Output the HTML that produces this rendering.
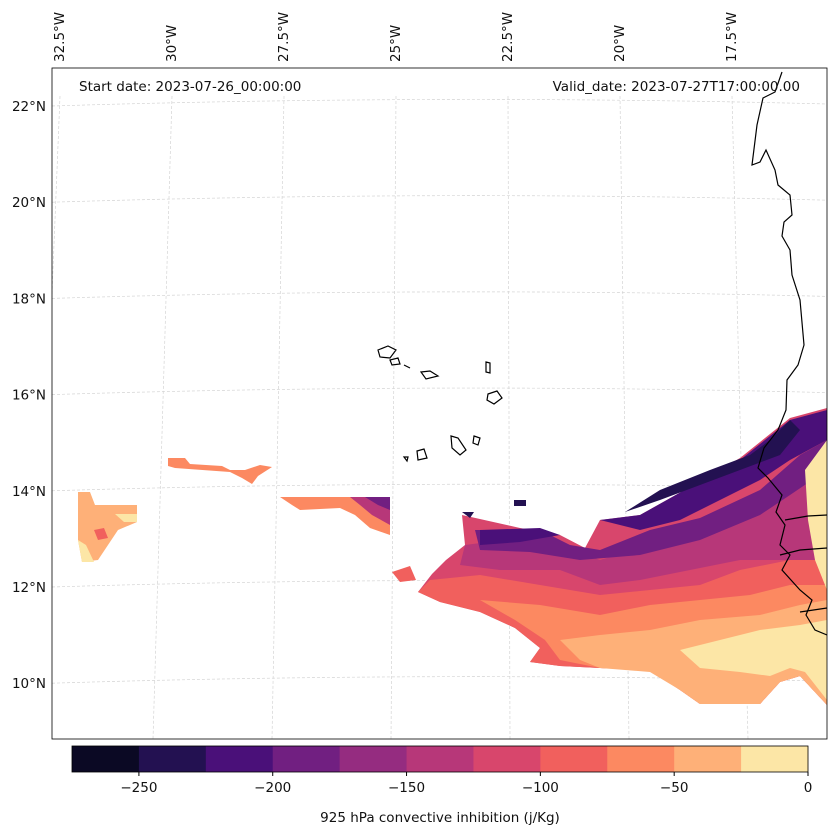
<!DOCTYPE html>
<html><head><meta charset="utf-8"><style>
body{margin:0;background:#fff;font-family:"DejaVu Sans",sans-serif}
svg{display:block}
text{font-family:"DejaVu Sans","Liberation Sans",sans-serif;font-size:13.5px;fill:#111}
</style></head><body>
<svg width="837" height="836" viewBox="0 0 837 836">
<defs><clipPath id="mc"><rect x="52" y="68" width="775" height="671"/></clipPath></defs>
<g id="grid" stroke="#d4d4d4" stroke-width="0.7" stroke-dasharray="3,2" fill="none" clip-path="url(#mc)"></g>
<g clip-path="url(#mc)">
 <path fill="#d8466c" d="M462,515 L520,528 L560,535 L585,548 L600,520 L640,515 L690,487 L740,458 L790,418 L827,408 L827,705 L800,676 L780,682 L760,704 L700,704 L680,690 L650,670 L600,668 L560,666 L530,662 L540,648 L515,628 L480,612 L440,602 L418,592 L432,574 L446,560 L465,545 Z"/>
 <path fill="#b73779" d="M465,545 L520,538 L560,545 L600,560 L650,545 L700,530 L760,505 L800,470 L827,450 L827,560 L790,560 L740,560 L690,570 L640,580 L600,585 L560,570 L500,570 L460,565 Z"/>
 <path fill="#711f81" d="M475,530 L540,530 L570,545 L600,550 L650,530 L700,518 L760,490 L800,455 L827,440 L827,470 L790,495 L760,515 L700,540 L640,555 L580,560 L530,552 L480,550 Z"/>
 <path fill="#4a1079" d="M480,530 L540,528 L560,535 L520,542 L480,545 Z M600,520 L640,515 L690,487 L740,460 L790,420 L827,410 L827,440 L790,460 L760,480 L720,500 L680,520 L640,530 Z"/>
 <path fill="#231151" d="M625,512 L660,490 L710,470 L750,455 L770,440 L790,420 L800,430 L780,455 L740,470 L700,485 L660,500 Z"/>
 <path fill="#f1605d" d="M430,580 L480,575 L540,585 L600,595 L650,590 L700,585 L740,570 L790,560 L827,560 L827,705 L800,676 L780,682 L760,704 L700,704 L680,690 L650,670 L600,668 L560,666 L530,662 L540,648 L515,628 L480,612 L440,602 L418,592 Z"/>
 <path fill="#fc8961" d="M480,600 L540,605 L600,615 L650,605 L700,600 L750,595 L790,585 L827,585 L827,705 L800,676 L780,682 L760,704 L700,704 L680,690 L650,670 L600,668 L560,660 L545,640 L515,620 Z"/>
 <path fill="#feb078" d="M560,640 L600,635 L650,630 L700,620 L760,615 L800,605 L827,600 L827,705 L800,676 L780,682 L760,704 L700,704 L680,690 L650,672 L600,668 L580,660 Z"/>
 <path fill="#fce6a6" d="M680,650 L720,640 L760,630 L800,625 L827,620 L827,700 L805,672 L790,668 L770,676 L740,672 L700,668 Z M805,470 L827,440 L827,590 L815,560 L808,520 Z"/>
 <path fill="#f1605d" d="M392,572 L410,566 L416,580 L400,582 Z"/>
 <path fill="#feb078" d="M78,492 L90,492 L95,505 L137,505 L137,522 L118,530 L98,560 L82,562 L78,540 Z"/>
 <path fill="#fce6a6" d="M78,540 L86,545 L94,562 L82,562 Z M115,514 L137,514 L137,522 L124,522 Z"/>
 <path fill="#f1605d" d="M94,530 L104,528 L108,538 L98,540 Z"/>
 <path fill="#fc8961" d="M168,458 L185,458 L190,464 L222,466 L230,470 L245,470 L260,465 L272,467 L258,476 L252,484 L242,478 L230,472 L175,468 L168,466 Z"/>
 <path fill="#fc8961" d="M280,497 L350,497 L390,498 L390,535 L370,528 L355,515 L340,508 L300,510 L292,505 Z"/>
 <path fill="#b73779" d="M350,497 L390,497 L390,525 L372,515 L360,505 Z"/>
 <path fill="#711f81" d="M365,497 L390,497 L390,510 L378,505 Z"/>
 <path fill="#231151" d="M514,500 L526,500 L526,506 L514,506 Z M462,512 L474,512 L470,518 Z"/>
</g>
<g fill="none" stroke="#000" stroke-width="1.2" clip-path="url(#mc)">
 <path d="M782,72 L775,92 L763,98 L757,125 L752,165 L760,162 L766,150 L775,170 L778,185 L790,195 L792,215 L784,222 L782,236 L790,250 L792,275 L800,300 L804,345 L798,365 L787,380 L786,410 L778,430 L764,448 L758,468 L768,478 L782,495 L776,512 L785,525 L780,545 L790,555 L782,570 L800,590 L812,600 L806,615 L815,630 L827,635"/>
 <path d="M785,520 L808,516 L827,515 M780,555 L800,550 L827,548 M800,612 L827,608"/>
 <path d="M378,350 L388,346 L396,350 L390,358 L380,357 Z M390,360 L398,358 L400,364 L392,365 Z M404,365 L410,368 M421,372 L430,371 L438,376 L426,379 Z M486,362 L490,363 L490,373 L486,372 Z M488,394 L497,391 L502,398 L494,404 L487,400 Z M451,436 L458,438 L466,450 L460,455 L452,448 Z M474,436 L480,438 L478,445 L473,443 Z M417,451 L424,449 L427,458 L418,460 Z M404,457 L408,457 L407,461 Z"/>
</g>
<rect x="52" y="68" width="775" height="671" fill="none" stroke="#000" stroke-width="0.8"/>
<g id="latlab"></g>
<g id="lonlab"></g>
<text x="79" y="91">Start date: 2023-07-26_00:00:00</text>
<text x="800" y="91" text-anchor="end">Valid_date: 2023-07-27T17:00:00.00</text>
<g id="cbar"></g>
<text x="440" y="822" text-anchor="middle">925 hPa convective inhibition (j/Kg)</text>
</svg>
<script>
const cbColors=["#0b0924","#231151","#4a1079","#711f81","#952c80","#b73779","#d8466c","#f1605d","#fc8961","#feb078","#fce6a6"];
const cbBounds=[-275,-250,-225,-200,-175,-150,-125,-100,-75,-50,-25,0];
const cbTicks=[-250,-200,-150,-100,-50,0];
const latVals=[22,20,18,16,14,12,10];
const lonVals=[32.5,30,27.5,25,22.5,20,17.5];
const NS="http://www.w3.org/2000/svg";
function mk(t,a,p){const e=document.createElementNS(NS,t);for(const k in a)e.setAttribute(k,a[k]);p.appendChild(e);return e;}
const cx=v=>72+(v-(-275))/275*736;
const cb=document.getElementById('cbar');
for(let i=0;i<cbColors.length;i++){
 const r=mk('rect',{x:cx(cbBounds[i]),y:746,width:cx(cbBounds[i+1])-cx(cbBounds[i])+0.5,height:26,fill:cbColors[i]},cb);
 
 
}
mk('rect',{x:72,y:746,width:736,height:26,fill:'none',stroke:'#000','stroke-width':0.8},cb);
cbTicks.forEach(v=>{
 mk('line',{x1:cx(v),x2:cx(v),y1:772,y2:776,stroke:'#000'},cb);
 const t=mk('text',{x:cx(v),y:792,'text-anchor':'middle'},cb);t.textContent=(v<0?'\u2212'+(-v):v);
 
 
});
const latY=v=>106+(22-v)*48.1;
const lonTop=v=>172+(30-v)*44.8;
const lonBot=v=>153+(30-v)*47.6;
const g=document.getElementById('grid');
latVals.forEach(v=>{const y=latY(v);mk('path',{d:`M52,${y} Q440,${y-12} 827,${y-2}`},g);
 const t=mk('text',{x:46,y:y+5,'text-anchor':'end'},document.getElementById('latlab'));t.textContent=v+'°N';
 
 
});
lonVals.forEach(v=>{mk('line',{x1:lonTop(v),y1:96,x2:lonBot(v),y2:739},g);
 const x=v==32.5?64:lonTop(v)+4;
 const t=mk('text',{x:x,y:62,transform:`rotate(-90 ${x} 62)`},document.getElementById('lonlab'));t.textContent=v+'°W';
 
 
});
</script>
</body></html>
